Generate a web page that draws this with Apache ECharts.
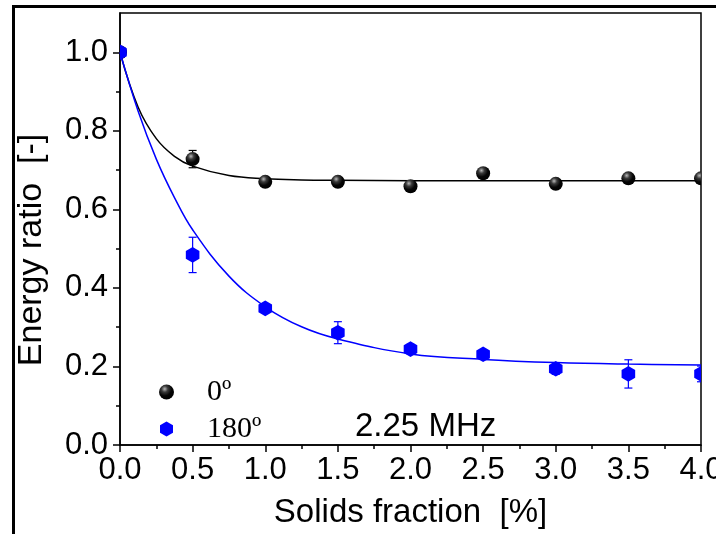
<!DOCTYPE html>
<html>
<head>
<meta charset="utf-8">
<script src="https://cdn.jsdelivr.net/npm/echarts@6/dist/echarts.min.js"></script>
<style>
  html, body { margin: 0; padding: 0; background: #fff; }
  #chart { width: 716px; height: 534px; }
</style>
</head>
<body>
<div id="chart"></div>
<script>
// Solids fraction [%] at which the energy ratio was measured
const solidsFraction = [0.0, 0.5, 1.0, 1.5, 2.0, 2.5, 3.0, 3.5, 4.0];

// Measured energy ratio, transducer at 0 degrees, with error half-widths
const ratio0 = [1.0, 0.728, 0.670, 0.670, 0.659, 0.692, 0.665, 0.679, 0.679];
const err0 = [0, 0.022, 0.008, 0.008, 0.008, 0.008, 0.008, 0.008, 0.008];

// Measured energy ratio, transducer at 180 degrees, with error half-widths
const ratio180 = [1.0, 0.484, 0.348, 0.286, 0.244, 0.231, 0.194, 0.181, 0.181];
const err180 = [0, 0.045, 0.01, 0.028, 0.012, 0.012, 0.014, 0.036, 0.02];

// Fitted decay curves, sampled along the solids fraction
const fitX = [0, 0.125, 0.25, 0.375, 0.5, 0.75, 1.0, 1.25, 1.5, 2.0, 2.5, 3.0, 3.5, 4.0];
const fit0 = [1.0, 0.860, 0.780, 0.735, 0.710, 0.686, 0.678, 0.675, 0.674, 0.673, 0.673, 0.673, 0.673, 0.673];
const fit180 = [1.0, 0.850, 0.728, 0.630, 0.548, 0.430, 0.352, 0.301, 0.270, 0.232, 0.218, 0.210, 0.206, 0.204];

// Axis ticks
const xTicks = [0, 0.5, 1.0, 1.5, 2.0, 2.5, 3.0, 3.5, 4.0];
const yMajor = [0, 0.2, 0.4, 0.6, 0.8, 1.0];
const yMinor = [0.1, 0.3, 0.5, 0.7, 0.9];

const legendNames = ['0º', '180º'];
const noteText = '2.25 MHz';
const xTitle = 'Solids fraction  [%]';
const yTitle = 'Energy ratio  [-]';

const SANS = '"Liberation Sans", Arial, sans-serif';
const SERIF = '"Liberation Serif", "Times New Roman", serif';
const BLUE = '#0000ff';
const HEX = 'path://M0,-1 L0.866,-0.5 L0.866,0.5 L0,1 L-0.866,0.5 L-0.866,-0.5 Z';

const sphereFill = {
  type: 'radial', x: 0.38, y: 0.3, r: 0.7,
  colorStops: [
    { offset: 0, color: '#b8b8b8' },
    { offset: 0.3, color: '#3a3a3a' },
    { offset: 0.65, color: '#050505' },
    { offset: 1, color: '#000' }
  ]
};

function pointData(ys, errs) {
  return solidsFraction.map((x, i) => [x, ys[i], errs[i]]);
}

function errorBar(api, p, color) {
  const lo = api.coord([api.value(0), api.value(1) - api.value(2)]);
  const hi = api.coord([api.value(0), api.value(1) + api.value(2)]);
  const st = { stroke: color, lineWidth: 1.2 };
  return [
    { type: 'line', shape: { x1: p[0], y1: lo[1], x2: p[0], y2: hi[1] }, style: st },
    { type: 'line', shape: { x1: p[0] - 4, y1: lo[1], x2: p[0] + 4, y2: lo[1] }, style: st },
    { type: 'line', shape: { x1: p[0] - 4, y1: hi[1], x2: p[0] + 4, y2: hi[1] }, style: st }
  ];
}

function renderSphere(params, api) {
  const p = api.coord([api.value(0), api.value(1)]);
  const kids = api.value(2) > 0 ? errorBar(api, p, '#000') : [];
  kids.push({ type: 'circle', shape: { cx: p[0], cy: p[1], r: 7 }, style: { fill: sphereFill } });
  return { type: 'group', children: kids };
}

function renderHex(params, api) {
  const p = api.coord([api.value(0), api.value(1)]);
  const kids = api.value(2) > 0 ? errorBar(api, p, BLUE) : [];
  const rx = 6.8, ry = 7.8;
  kids.push({
    type: 'polygon',
    shape: { points: [[p[0], p[1] - ry], [p[0] + rx, p[1] - ry / 2], [p[0] + rx, p[1] + ry / 2],
                      [p[0], p[1] + ry], [p[0] - rx, p[1] + ry / 2], [p[0] - rx, p[1] - ry / 2]] },
    style: { fill: BLUE }
  });
  return { type: 'group', children: kids };
}

const chart = echarts.init(document.getElementById('chart'), null, { renderer: 'canvas' });

const yAxisBase = {
  type: 'value', min: 0, max: 1.1, position: 'left',
  splitLine: { show: false }
};

chart.setOption({
  animation: false,
  backgroundColor: '#fff',
  grid: {
    left: 120, right: 15, top: 13, bottom: 89,
    outerBoundsMode: 'none', containLabel: false,
    show: true, borderColor: '#000', borderWidth: 1.5, backgroundColor: 'transparent'
  },
  xAxis: {
    type: 'value', min: 0, max: 4, interval: 0.5,
    name: xTitle, nameLocation: 'middle', nameGap: 51,
    nameTextStyle: { fontFamily: SANS, fontSize: 33, color: '#000' },
    axisLine: { show: true, onZero: false, lineStyle: { color: '#000', width: 1.5 } },
    axisTick: { show: true, inside: false, length: 7, lineStyle: { color: '#000', width: 1.5 } },
    minorTick: { show: true, splitNumber: 2, length: 4, lineStyle: { color: '#000', width: 1.5 } },
    axisLabel: { margin: 10, fontFamily: SANS, fontSize: 31, color: '#000',
                 customValues: xTicks, formatter: v => v.toFixed(1) },
    splitLine: { show: false }
  },
  yAxis: [
    Object.assign({}, yAxisBase, {
      axisLine: { show: true, onZero: false, lineStyle: { color: '#000', width: 1.5 } },
      axisTick: { show: true, inside: false, length: 7, customValues: yMajor,
                  lineStyle: { color: '#000', width: 1.5 } },
      axisLabel: { margin: 12, fontFamily: SANS, fontSize: 31, color: '#000',
                   customValues: yMajor, formatter: v => v.toFixed(1) }
    }),
    Object.assign({}, yAxisBase, {
      axisLine: { show: false },
      axisTick: { show: true, inside: false, length: 4, customValues: yMinor,
                  lineStyle: { color: '#000', width: 1.5 } },
      axisLabel: { show: false }
    })
  ],
  legend: {
    orient: 'vertical', left: 154, top: 372,
    itemWidth: 15, itemHeight: 15, itemGap: 7,
    textStyle: { fontFamily: SERIF, fontSize: 30, color: '#000', lineHeight: 30, padding: [0, 0, 0, 28] },
    data: [
      { name: legendNames[0], icon: 'circle', itemStyle: { color: sphereFill } },
      { name: legendNames[1], icon: HEX, itemStyle: { color: BLUE } }
    ]
  },
  graphic: [
    // outer frame lines
    { type: 'rect', shape: { x: 12, y: 5, width: 704, height: 3 }, style: { fill: '#000' }, z: 100 },
    { type: 'rect', shape: { x: 12, y: 5, width: 3, height: 529 }, style: { fill: '#000' }, z: 100 },
    {
      type: 'text', x: 32, y: 250, rotation: Math.PI / 2,
      style: { text: yTitle, fontFamily: SANS, fontSize: 34, fill: '#000', align: 'center', verticalAlign: 'middle' }
    },
    {
      type: 'text', x: 355, y: 427,
      style: { text: noteText, fontFamily: SANS, fontSize: 33, fill: '#000', align: 'left', verticalAlign: 'middle' }
    }
  ],
  series: [
    {
      type: 'line', name: 'fit0', smooth: 0.4, showSymbol: false, clip: true,
      data: fitX.map((x, i) => [x, fit0[i]]),
      lineStyle: { color: '#000', width: 1.5 }, itemStyle: { color: '#000' }, z: 2
    },
    {
      type: 'line', name: 'fit180', smooth: 0.4, showSymbol: false, clip: true,
      data: fitX.map((x, i) => [x, fit180[i]]),
      lineStyle: { color: BLUE, width: 1.5 }, itemStyle: { color: BLUE }, z: 2
    },
    {
      type: 'custom', name: legendNames[0], clip: true, z: 3,
      renderItem: renderSphere, data: pointData(ratio0, err0),
      itemStyle: { color: '#000' }
    },
    {
      type: 'custom', name: legendNames[1], clip: true, z: 4,
      renderItem: renderHex, data: pointData(ratio180, err180),
      itemStyle: { color: BLUE }
    }
  ]
});
</script>
</body>
</html>
